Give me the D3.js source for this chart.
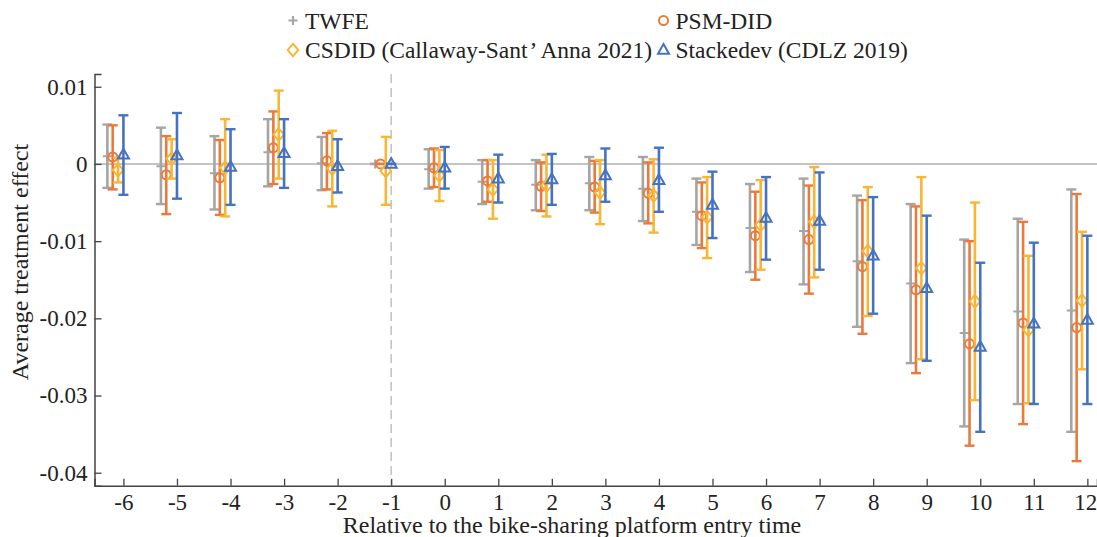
<!DOCTYPE html>
<html><head><meta charset="utf-8">
<script src="https://cdn.jsdelivr.net/npm/d3@7"></script>
<style>html,body{margin:0;padding:0;background:#fff;overflow:hidden}svg{display:block}text{font-family:"Liberation Serif","Times New Roman",serif;fill:#222}</style>
</head><body><svg id="c" width="1097" height="537"></svg>
<script>
const periods = [-6,-5,-4,-3,-2,-1,0,1,2,3,4,5,6,7,8,9,10,11,12];
const yTicks = [0.01,0,-0.01,-0.02,-0.03,-0.04];
const seriesNames = ["TWFE","PSM-DID","CSDID (Callaway-Sant\u2019Anna 2021)","Stackedev (CDLZ 2019)"];
// point estimates and 95% CI bounds
const twfeEst  = [0.0010,-0.0003,-0.0012,0.0015,0.0001,0,-0.0007,-0.0023,-0.0027,-0.0025,-0.0032,-0.0062,-0.0083,-0.0087,-0.0126,-0.0155,-0.0219,-0.0191,-0.0190];
const twfeLo   = [-0.0031,-0.0052,-0.0059,-0.0029,-0.0034,0,-0.0032,-0.0052,-0.0060,-0.0060,-0.0074,-0.0105,-0.0140,-0.0156,-0.0211,-0.0258,-0.0340,-0.0311,-0.0347];
const twfeHi   = [0.0051,0.0047,0.0036,0.0058,0.0035,0,0.0019,0.0005,0.0005,0.0009,0.0009,-0.0019,-0.0026,-0.0019,-0.0041,-0.0052,-0.0098,-0.0071,-0.0033];
const psmEst   = [0.0009,-0.0014,-0.0018,0.0021,0.0004,0,-0.0005,-0.0022,-0.0029,-0.0030,-0.0038,-0.0067,-0.0093,-0.0098,-0.0133,-0.0163,-0.0233,-0.0206,-0.0212];
const psmLo    = [-0.0033,-0.0065,-0.0066,-0.0026,-0.0033,0,-0.0030,-0.0049,-0.0061,-0.0063,-0.0077,-0.0109,-0.0150,-0.0168,-0.0220,-0.0271,-0.0365,-0.0337,-0.0385];
const psmHi    = [0.0050,0.0036,0.0031,0.0068,0.0040,0,0.0020,0.0005,0.0002,0.0004,0.0002,-0.0024,-0.0036,-0.0028,-0.0047,-0.0055,-0.0100,-0.0075,-0.0039];
const csdidEst = [-0.0008,0.0007,-0.0005,0.0038,-0.0006,-0.0009,-0.0015,-0.0033,-0.0028,-0.0037,-0.0041,-0.0069,-0.0079,-0.0075,-0.0113,-0.0135,-0.0178,-0.0215,-0.0177];
const csdidLo  = [-0.0024,-0.0019,-0.0068,-0.0019,-0.0055,-0.0053,-0.0048,-0.0071,-0.0068,-0.0078,-0.0089,-0.0122,-0.0137,-0.0147,-0.0197,-0.0253,-0.0306,-0.0310,-0.0266];
const csdidHi  = [0.0008,0.0032,0.0058,0.0095,0.0043,0.0035,0.0018,0.0005,0.0012,0.0005,0.0006,-0.0017,-0.0021,-0.0004,-0.0030,-0.0017,-0.0050,-0.0119,-0.0088];
const stackEst = [0.0012,0.0011,-0.0004,0.0014,-0.0003,0,-0.0005,-0.0019,-0.0020,-0.0015,-0.0021,-0.0053,-0.0070,-0.0074,-0.0119,-0.0161,-0.0237,-0.0207,-0.0202];
const stackLo  = [-0.0040,-0.0045,-0.0053,-0.0031,-0.0037,0,-0.0032,-0.0050,-0.0053,-0.0049,-0.0062,-0.0096,-0.0124,-0.0137,-0.0194,-0.0255,-0.0347,-0.0311,-0.0311];
const stackHi  = [0.0063,0.0066,0.0045,0.0058,0.0032,0,0.0022,0.0012,0.0013,0.0020,0.0021,-0.0010,-0.0017,-0.0011,-0.0043,-0.0067,-0.0128,-0.0102,-0.0093];
const xLabel = "Relative to the bike-sharing platform entry time";
const yLabel = "Average treatment effect";

const colors = ["#A5A5A5","#EB7A3A","#F9B634","#4472C4"];
const offsets = [-0.3,-0.2,-0.1,0];
const symbols = ["plus","circle","diamond","triangle"];
const series = [
  {est:twfeEst, lo:twfeLo, hi:twfeHi},
  {est:psmEst, lo:psmLo, hi:psmHi},
  {est:csdidEst, lo:csdidLo, hi:csdidHi},
  {est:stackEst, lo:stackLo, hi:stackHi}
];

const SERIF = '"Liberation Serif","Times New Roman",serif';
const svg = d3.select("#c");
const x = d3.scaleLinear().domain([-6.54, 12.18]).range([94.5, 1097]);
const y = d3.scaleLinear().domain([-0.04168, 0.01165]).range([485.7, 74]);
const axisColor = "#444";

// zero line
svg.append("line").attr("x1", x.range()[0]).attr("x2", 1097).attr("y1", y(0)).attr("y2", y(0))
  .attr("stroke", "#B0B0B0").attr("stroke-width", 1.5);
// dashed line at -1
svg.append("line").attr("x1", x(-1)).attr("x2", x(-1)).attr("y1", y.range()[1]).attr("y2", y.range()[0])
  .attr("stroke", "#C4C4C4").attr("stroke-width", 1.6).attr("stroke-dasharray", "9,5");

// axes
const fmt = d => d === 0 ? "0" : d3.format(".2f")(d).replace("\u2212", "-");
const yAxis = d3.axisLeft(y).tickValues(yTicks).tickSize(-7).tickPadding(7).tickFormat(fmt);
const gy = svg.append("g").attr("transform", `translate(${x.range()[0]},0)`).call(yAxis);
gy.attr("font-family", null).attr("font-size", null);
gy.select(".domain").attr("stroke", axisColor).attr("stroke-width", 1.5);
gy.selectAll(".tick line").attr("stroke", axisColor).attr("stroke-width", 1.3);
gy.selectAll(".tick text").style("font-family", SERIF).style("font-size", "23px").attr("fill", "#222");

const xAxis = d3.axisBottom(x).tickValues(periods).tickSize(-7).tickPadding(8).tickFormat(d => String(d).replace("\u2212","-"));
const gx = svg.append("g").attr("transform", `translate(0,${y.range()[0]})`).call(xAxis);
gx.attr("font-family", null).attr("font-size", null);
gx.select(".domain").attr("stroke", axisColor).attr("stroke-width", 1.5);
gx.selectAll(".tick line").attr("stroke", axisColor).attr("stroke-width", 1.3);
gx.selectAll(".tick text").style("font-family", SERIF).style("font-size", "23px").attr("fill", "#222")
  .attr("dx", d => d === periods[periods.length - 1] ? -2 : 0);

// error bars & markers
const cap = 5;
function drawMarker(g, sym, cx, cy, color) {
  if (sym === "plus") {
    g.append("path").attr("d", `M${cx-4.5},${cy}H${cx+4.5}M${cx},${cy-4.5}V${cy+4.5}`)
      .attr("stroke", color).attr("stroke-width", 2).attr("fill", "none");
  } else if (sym === "circle") {
    g.append("circle").attr("cx", cx).attr("cy", cy).attr("r", 4.5)
      .attr("stroke", color).attr("stroke-width", 2).attr("fill", "none");
  } else if (sym === "diamond") {
    g.append("path").attr("d", `M${cx},${cy-6.3}L${cx+5.3},${cy}L${cx},${cy+6.3}L${cx-5.3},${cy}Z`)
      .attr("stroke", color).attr("stroke-width", 2).attr("fill", "none");
  } else {
    g.append("path").attr("d", `M${cx},${cy-6}L${cx+5.5},${cy+3.8}L${cx-5.5},${cy+3.8}Z`)
      .attr("stroke", color).attr("stroke-width", 2).attr("fill", "none");
  }
}
series.forEach((s, si) => {
  const g = svg.append("g");
  periods.forEach((p, i) => {
    const cx = x(p + offsets[si]);
    const yl = y(s.lo[i]), yh = y(s.hi[i]);
    g.append("line").attr("x1", cx).attr("x2", cx).attr("y1", yh).attr("y2", yl)
      .attr("stroke", colors[si]).attr("stroke-width", 2.6);
    [yh, yl].forEach(yy => g.append("line").attr("x1", cx - cap).attr("x2", cx + cap)
      .attr("y1", yy).attr("y2", yy).attr("stroke", colors[si]).attr("stroke-width", 2.4));
    drawMarker(g, symbols[si], cx, y(s.est[i]), colors[si]);
  });
});

// legend
const legPos = [[293, 20.5], [663.5, 20.5], [293, 50], [663.5, 50]];
seriesNames.forEach((n, i) => {
  const g = svg.append("g");
  drawMarker(g, symbols[i], legPos[i][0], legPos[i][1], colors[i]);
  const t = g.append("text").attr("x", legPos[i][0] + 12).attr("y", legPos[i][1] + 8)
    .style("font-size", "23.5px");
  const parts = n.split("\u2019");
  if (parts.length > 1) {
    t.append("tspan").text(parts[0]);
    t.append("tspan").attr("dx", 2).text("\u2019");
    t.append("tspan").attr("dx", 3).text(parts[1]);
    // keep the long entry clear of the second column's marker
    const w = t.node().getComputedTextLength();
    const maxW = legPos[3][0] - legPos[i][0] - 12 - 14;
    if (w > maxW) t.attr("textLength", maxW).attr("lengthAdjust", "spacingAndGlyphs");
  } else {
    t.text(n);
  }
});

// axis labels
svg.append("text").attr("x", 572).attr("y", 533).attr("text-anchor", "middle").style("font-size", "24px").text(xLabel);
svg.append("text").attr("transform", "translate(28,262) rotate(-90)").attr("text-anchor", "middle").style("font-size", "24px").text(yLabel);
</script></body></html>
